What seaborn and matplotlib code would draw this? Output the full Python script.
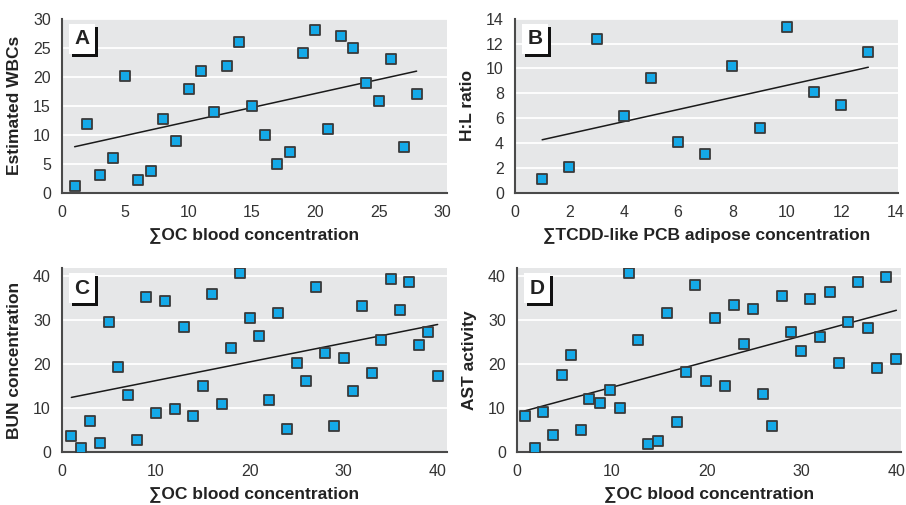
import numpy as np
import pandas as pd
import seaborn as sns
import matplotlib.pyplot as plt
from matplotlib.patches import Rectangle

# panel A: estimated WBCs vs OC blood concentration
a_x = list(range(1, 29))
a_y = [1.2, 11.8, 3.0, 6.0, 20.1, 2.2, 3.8, 12.7, 8.9, 17.9, 21.0, 14.0, 21.8, 26.0,
       14.9, 9.9, 5.0, 7.0, 24.1, 28.0, 11.0, 27.0, 25.0, 18.9, 15.8, 23.0, 7.9, 17.0]

# panel B: H:L ratio vs TCDD-like PCB adipose concentration
b_x = list(range(1, 14))
b_y = [1.1, 2.1, 12.4, 6.2, 9.2, 4.1, 3.1, 10.2, 5.2, 13.3, 8.1, 7.1, 11.3]

# panel C: BUN concentration
c_x = list(range(1, 41))
c_y = [3.6, 0.8, 7.0, 2.0, 29.5, 19.2, 13.0, 2.8, 35.1, 8.9, 34.3, 9.7, 28.3, 8.1,
       15.0, 35.9, 10.9, 23.6, 40.5, 30.5, 26.3, 11.8, 31.5, 5.1, 20.1, 16.2, 37.4,
       22.4, 5.9, 21.4, 13.9, 33.2, 18.0, 25.3, 39.3, 32.2, 38.6, 24.3, 27.2, 17.2]

# panel D: AST activity
d_x = [0.8, 1.9, 2.7, 3.8, 4.8, 5.7, 6.8, 7.6, 8.8, 9.8, 10.9, 11.8, 12.8, 13.8,
       14.9, 15.8, 16.9, 17.8, 18.8, 19.9, 20.9, 21.9, 22.9, 23.9, 24.9, 25.9, 26.9,
       27.9, 28.9, 29.9, 30.9, 32.0, 33.0, 33.9, 34.9, 36.0, 37.0, 38.0, 38.9, 40.0]
d_y = [8.2, 0.8, 9.0, 3.8, 17.4, 22.0, 5.0, 12.1, 11.1, 14.0, 10.0, 40.7, 25.3, 1.9,
       2.6, 31.5, 6.9, 18.1, 37.9, 16.2, 30.5, 15.0, 33.4, 24.4, 32.5, 13.1, 5.9,
       35.4, 27.2, 23.0, 34.6, 26.1, 36.4, 20.2, 29.4, 38.6, 28.2, 19.1, 39.8, 21.0]

panels = [
    ("A", a_x, a_y, "\u2211OC blood concentration", "Estimated WBCs",
     [0, 5, 10, 15, 20, 25, 30], [0, 5, 10, 15, 20, 25, 30], (0, 30.4), (0, 30)),
    ("B", b_x, b_y, "\u2211TCDD-like PCB adipose concentration", "H:L ratio",
     [0, 2, 4, 6, 8, 10, 12, 14], [0, 2, 4, 6, 8, 10, 12, 14], (0, 14.1), (0, 14)),
    ("C", c_x, c_y, "\u2211OC blood concentration", "BUN concentration",
     [0, 10, 20, 30, 40], [0, 10, 20, 30, 40], (0, 41), (0, 41.7)),
    ("D", d_x, d_y, "\u2211OC blood concentration", "AST activity",
     [0, 10, 20, 30, 40], [0, 10, 20, 30, 40], (0, 40.5), (0, 41.7)),
]

positions = [
    [0.0684, 0.618, 0.425, 0.345],
    [0.5684, 0.618, 0.423, 0.345],
    [0.0684, 0.105, 0.425, 0.364],
    [0.5706, 0.105, 0.424, 0.364],
]

sns.set_style("white")
plt.rcParams['font.family'] = ['Liberation Sans', 'DejaVu Sans']

W, H = 906, 505
fig = plt.figure(figsize=(W / 100, H / 100), dpi=100)

for (letter, xs, ys, xlab, ylab, xt, yt, xlim, ylim), pos in zip(panels, positions):
    ax = fig.add_axes(pos)
    ax.set_facecolor("#e6e7e8")
    df = pd.DataFrame({"x": xs, "y": ys})
    ax.set_axisbelow(True)
    for v in yt[1:]:
        ax.axhline(v, color="white", lw=1.3, zorder=0)
    sns.regplot(data=df, x="x", y="y", ax=ax, ci=None, marker="s",
                scatter_kws=dict(s=48, color="#14a9e8", edgecolor="#3a3a3a",
                                 linewidths=1.3, alpha=1, zorder=3),
                line_kws=dict(color="#1a1a1a", lw=1.1, zorder=2))
    ax.set_xlim(*xlim)
    ax.set_ylim(*ylim)
    ax.set_xticks(xt)
    ax.set_yticks(yt)
    ax.tick_params(length=0, labelsize=11.5, colors="#333333")
    ax.tick_params(axis="x", pad=9)
    ax.tick_params(axis="y", pad=8)
    ax.set_xlabel(xlab, fontsize=12.5, fontweight="bold", color="#222222", labelpad=5)
    ax.set_ylabel(ylab, fontsize=12.5, fontweight="bold", color="#222222", labelpad=8)
    for s in ["top", "right"]:
        ax.spines[s].set_visible(False)
    for s in ["left", "bottom"]:
        ax.spines[s].set_color("#4a4a4a")
        ax.spines[s].set_linewidth(1.5)

    # panel letter box with drop shadow
    aw, ah = pos[2] * W, pos[3] * H
    ox, oy, bw, bh, sh = 7, 5, 26, 30, 3
    x0 = ox / aw
    y1 = 1 - oy / ah
    ax.add_patch(Rectangle((x0 + sh / aw, y1 - (bh + sh) / ah), bw / aw, bh / ah,
                           transform=ax.transAxes, facecolor="#111111", edgecolor="none",
                           zorder=5, clip_on=False))
    ax.add_patch(Rectangle((x0, y1 - bh / ah), bw / aw, bh / ah,
                           transform=ax.transAxes, facecolor="white", edgecolor="none",
                           zorder=6, clip_on=False))
    ax.text(x0 + bw / aw / 2, y1 - bh / ah / 2, letter, transform=ax.transAxes,
            ha="center", va="center", fontsize=15, fontweight="bold",
            color="#222222", zorder=7)

fig.savefig("out.png", dpi=100)
